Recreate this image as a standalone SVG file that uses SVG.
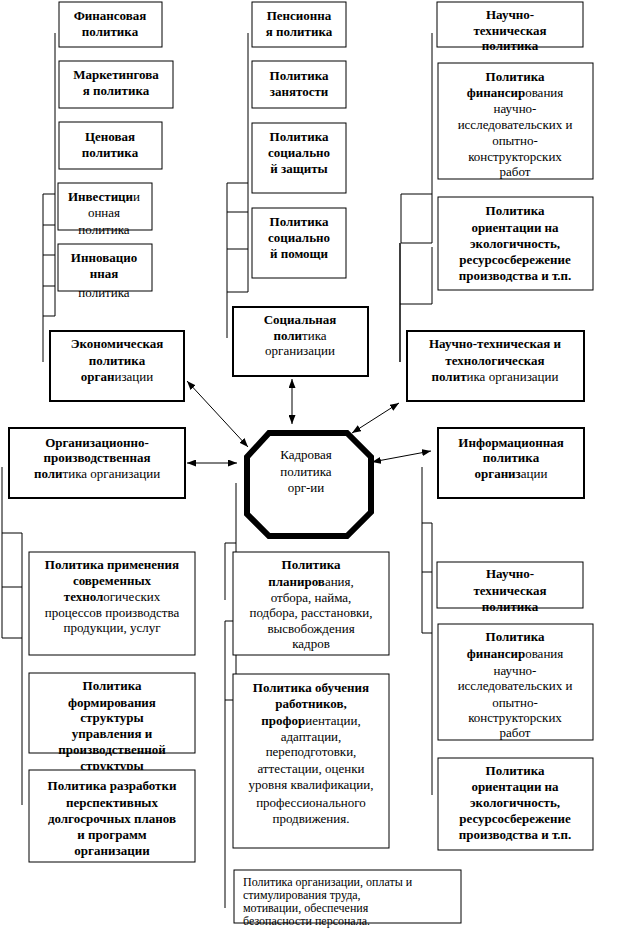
<svg xmlns="http://www.w3.org/2000/svg" width="626" height="938" viewBox="0 0 626 938">
<style>
rect.b{fill:#fff;stroke:#000;stroke-width:1}
rect.t{fill:#fff;stroke:#000;stroke-width:2}
.ln line,.ln polyline{stroke:#000;stroke-width:1;fill:none}
.ar{stroke:#000;stroke-width:1;fill:none;marker-start:url(#ah);marker-end:url(#ah)}
text{font-family:"Liberation Serif","Times New Roman",serif;font-size:13px;text-anchor:middle;fill:#000}
.bd{font-weight:bold}
.sm{font-size:12px;text-anchor:start}
</style>
<defs>
<marker id="ah" viewBox="0 0 10 10" refX="10" refY="5" markerWidth="9" markerHeight="7" markerUnits="userSpaceOnUse" orient="auto-start-reverse" preserveAspectRatio="none">
<path d="M0,0 L10,5 L0,10 Z" fill="#000"/>
</marker>
</defs>
<rect width="626" height="938" fill="#fff"/>

<g id="connectors" class="ln">
<line x1="55" y1="33" x2="55" y2="316"/>
<line x1="43" y1="194" x2="43" y2="362"/>
<line x1="43" y1="194" x2="55" y2="194"/>
<line x1="43" y1="225" x2="55" y2="225"/>
<line x1="43" y1="255" x2="55" y2="255"/>
<line x1="43" y1="286" x2="55" y2="286"/>
<line x1="43" y1="316" x2="55" y2="316"/>
<line x1="248" y1="33" x2="248" y2="292"/>
<line x1="227" y1="183" x2="227" y2="338"/>
<line x1="227" y1="183" x2="248" y2="183"/>
<line x1="227" y1="212" x2="248" y2="212"/>
<line x1="227" y1="249" x2="248" y2="249"/>
<line x1="227" y1="292" x2="248" y2="292"/>
<line x1="432" y1="33" x2="432" y2="243"/>
<line x1="401" y1="194" x2="401" y2="243"/>
<line x1="401" y1="194" x2="432" y2="194"/>
<line x1="401" y1="243" x2="432" y2="243"/>
<line x1="400" y1="243" x2="400" y2="362" style="stroke-width:1.5"/>
<line x1="432" y1="247" x2="432" y2="304"/>
<line x1="400" y1="304" x2="432" y2="304"/>
<line x1="2" y1="467" x2="2" y2="638"/>
<line x1="22" y1="533" x2="22" y2="805"/>
<line x1="2" y1="533" x2="22" y2="533"/>
<line x1="2" y1="587" x2="22" y2="587"/>
<line x1="2" y1="638" x2="22" y2="638"/>
<line x1="236" y1="483" x2="236" y2="700"/>
<line x1="225" y1="543" x2="225" y2="600"/>
<line x1="225" y1="543" x2="236" y2="543"/>
<line x1="225" y1="621" x2="225" y2="908"/>
<line x1="225" y1="621" x2="236" y2="621"/>
<line x1="225" y1="700" x2="236" y2="700"/>
<line x1="422" y1="467" x2="422" y2="633"/>
<line x1="432" y1="523" x2="432" y2="795"/>
<line x1="422" y1="523" x2="432" y2="523"/>
<line x1="422" y1="572" x2="432" y2="572"/>
<line x1="422" y1="633" x2="432" y2="633"/>
<line class="ar" x1="187" y1="381" x2="248" y2="447"/>
<line class="ar" x1="292" y1="379" x2="292" y2="424"/>
<line class="ar" x1="187" y1="463" x2="237" y2="463"/>
<line class="ar" x1="399" y1="403" x2="352" y2="433"/>
<line class="ar" x1="431" y1="451" x2="372" y2="462"/>
</g>

<g id="n-fin">
<rect class="b" x="59" y="2" width="103" height="45"/>
<text class="bd" x="110" y="20">Финансовая</text>
<text class="bd" x="110" y="36">политика</text>
</g>
<g id="n-mark">
<rect class="b" x="59" y="61" width="114" height="47"/>
<text class="bd" x="116" y="79">Маркетингова</text>
<text class="bd" x="116" y="95">я политика</text>
</g>
<g id="n-cen">
<rect class="b" x="59" y="122" width="103" height="47"/>
<text class="bd" x="110" y="141">Ценовая</text>
<text class="bd" x="110" y="157">политика</text>
</g>
<g id="n-inv">
<rect class="b" x="58" y="183" width="94" height="47"/>
<text x="104" y="201"><tspan class="bd">Инвестици</tspan>и</text>
<text x="104" y="217">онная</text>
<text x="104" y="234">политика</text>
</g>
<g id="n-inn">
<rect class="b" x="58" y="244" width="94" height="47"/>
<text class="bd" x="104" y="262">Инновацио</text>
<text class="bd" x="104" y="278">нная</text>
<text x="104" y="297">политика</text>
</g>

<g id="n-pens">
<rect class="b" x="252" y="2" width="94" height="45"/>
<text class="bd" x="299" y="20">Пенсионна</text>
<text class="bd" x="299" y="36">я политика</text>
</g>
<g id="n-zan">
<rect class="b" x="252" y="61" width="94" height="47"/>
<text class="bd" x="299" y="80">Политика</text>
<text class="bd" x="299" y="96">занятости</text>
</g>
<g id="n-szash">
<rect class="b" x="252" y="123" width="94" height="70"/>
<text class="bd" x="299" y="141">Политика</text>
<text class="bd" x="299" y="157">социально</text>
<text class="bd" x="299" y="173">й защиты</text>
</g>
<g id="n-spom">
<rect class="b" x="252" y="208" width="94" height="70"/>
<text class="bd" x="299" y="226">Политика</text>
<text class="bd" x="299" y="242">социально</text>
<text class="bd" x="299" y="258">й помощи</text>
</g>

<g id="n-nt1">
<rect class="b" x="437" y="2" width="146" height="45"/>
<text class="bd" x="510" y="19">Научно-</text>
<text class="bd" x="510" y="35">техническая</text>
<text class="bd" x="510" y="50">политика</text>
</g>
<g id="n-finnir1">
<rect class="b" x="438" y="63" width="155" height="116"/>
<text class="bd" x="515" y="81">Политика</text>
<text x="515" y="97"><tspan class="bd">финансир</tspan>ования</text>
<text x="515" y="113">научно-</text>
<text x="515" y="129">исследовательских и</text>
<text x="515" y="145">опытно-</text>
<text x="515" y="161">конструкторских</text>
<text x="515" y="176">работ</text>
</g>
<g id="n-eco1">
<rect class="b" x="438" y="197" width="155" height="93"/>
<text class="bd" x="515" y="215">Политика</text>
<text class="bd" x="515" y="232">ориентации на</text>
<text class="bd" x="515" y="248">экологичность,</text>
<text class="bd" x="515" y="264">ресурсосбережение</text>
<text class="bd" x="515" y="280">производства и т.п.</text>
</g>

<g id="n-econ">
<rect class="t" x="50" y="331" width="134" height="70"/>
<text class="bd" x="117" y="348">Экономическая</text>
<text class="bd" x="117" y="365">политика</text>
<text x="117" y="381"><tspan class="bd">орган</tspan>изации</text>
</g>
<g id="n-soc">
<rect class="t" x="233" y="307" width="135" height="69"/>
<text class="bd" x="300" y="324">Социальная</text>
<text x="300" y="340"><tspan class="bd">поли</tspan>тика</text>
<text x="300" y="355">организации</text>
</g>
<g id="n-ntt">
<rect class="t" x="407" y="331" width="177" height="70"/>
<text class="bd" x="495" y="348">Научно-техническая и</text>
<text class="bd" x="495" y="365">технологическая</text>
<text x="495" y="381"><tspan class="bd">полит</tspan>ика организации</text>
</g>
<g id="n-orgpr">
<rect class="t" x="9" y="428" width="176" height="70"/>
<text class="bd" x="97" y="447">Организационно-</text>
<text class="bd" x="97" y="462">производственная</text>
<text x="97" y="478"><tspan class="bd">поли</tspan>тика организации</text>
</g>
<g id="n-info">
<rect class="t" x="438" y="428" width="146" height="70"/>
<text class="bd" x="511" y="447">Информационная</text>
<text class="bd" x="511" y="462">политика</text>
<text x="511" y="478"><tspan class="bd">организ</tspan>ации</text>
</g>

<g id="n-kadr">
<polygon points="269,433 347,433 371,457 371,512 347,536 269,536 247,514 247,457" fill="#fff" stroke="#000" stroke-width="6" stroke-linejoin="miter"/>
<text x="306" y="459">Кадровая</text>
<text x="306" y="476">политика</text>
<text x="306" y="492">орг-ии</text>
</g>

<g id="n-prim">
<rect class="b" x="29" y="552" width="166" height="103"/>
<text class="bd" x="112" y="569">Политика применения</text>
<text class="bd" x="112" y="585">современных</text>
<text x="112" y="601"><tspan class="bd">технол</tspan>огических</text>
<text x="112" y="617">процессов производства</text>
<text x="112" y="632">продукции, услуг</text>
</g>
<g id="n-form">
<rect class="b" x="29" y="673" width="166" height="80"/>
<text class="bd" x="112" y="690">Политика</text>
<text class="bd" x="112" y="707">формирования</text>
<text class="bd" x="112" y="722">структуры</text>
<text class="bd" x="112" y="738">управления и</text>
<text class="bd" x="112" y="754">производственной</text>
<text class="bd" x="112" y="770">структуры</text>
</g>
<g id="n-razr">
<rect class="b" x="29" y="770" width="166" height="92"/>
<text class="bd" x="112" y="790">Политика разработки</text>
<text class="bd" x="112" y="807">перспективных</text>
<text class="bd" x="112" y="823">долгосрочных планов</text>
<text class="bd" x="112" y="839">и программ</text>
<text class="bd" x="112" y="855">организации</text>
</g>

<g id="n-plan">
<rect class="b" x="233" y="552" width="156" height="103"/>
<text class="bd" x="311" y="569">Политика</text>
<text x="311" y="586"><tspan class="bd">планиров</tspan>ания,</text>
<text x="311" y="602">отбора, найма,</text>
<text x="311" y="617">подбора, расстановки,</text>
<text x="311" y="633">высвобождения</text>
<text x="311" y="648">кадров</text>
</g>
<g id="n-obuch">
<rect class="b" x="233" y="674" width="156" height="174"/>
<text class="bd" x="311" y="692">Политика обучения</text>
<text class="bd" x="311" y="708">работников,</text>
<text x="311" y="725"><tspan class="bd">профор</tspan>иентации,</text>
<text x="311" y="741">адаптации,</text>
<text x="311" y="756">переподготовки,</text>
<text x="311" y="773">аттестации, оценки</text>
<text x="311" y="789">уровня квалификации,</text>
<text x="311" y="807">профессионального</text>
<text x="311" y="823">продвижения.</text>
</g>
<g id="n-opl">
<rect class="b" x="234" y="870" width="227" height="53"/>
<text class="sm" x="243" y="886">Политика организации, оплаты и</text>
<text class="sm" x="243" y="899">стимулирования труда,</text>
<text class="sm" x="243" y="912">мотивации, обеспечения</text>
<text class="sm" x="243" y="925">безопасности персонала.</text>
</g>

<g id="n-nt2">
<rect class="b" x="437" y="562" width="146" height="46"/>
<text class="bd" x="510" y="578">Научно-</text>
<text class="bd" x="510" y="595">техническая</text>
<text class="bd" x="510" y="611">политика</text>
</g>
<g id="n-finnir2">
<rect class="b" x="438" y="624" width="155" height="116"/>
<text class="bd" x="515" y="641">Политика</text>
<text x="515" y="658"><tspan class="bd">финансир</tspan>ования</text>
<text x="515" y="675">научно-</text>
<text x="515" y="690">исследовательских и</text>
<text x="515" y="707">опытно-</text>
<text x="515" y="722">конструкторских</text>
<text x="515" y="737">работ</text>
</g>
<g id="n-eco2">
<rect class="b" x="438" y="758" width="155" height="92"/>
<text class="bd" x="515" y="775">Политика</text>
<text class="bd" x="515" y="791">ориентации на</text>
<text class="bd" x="515" y="807">экологичность,</text>
<text class="bd" x="515" y="823">ресурсосбережение</text>
<text class="bd" x="515" y="839">производства и т.п.</text>
</g>
</svg>
